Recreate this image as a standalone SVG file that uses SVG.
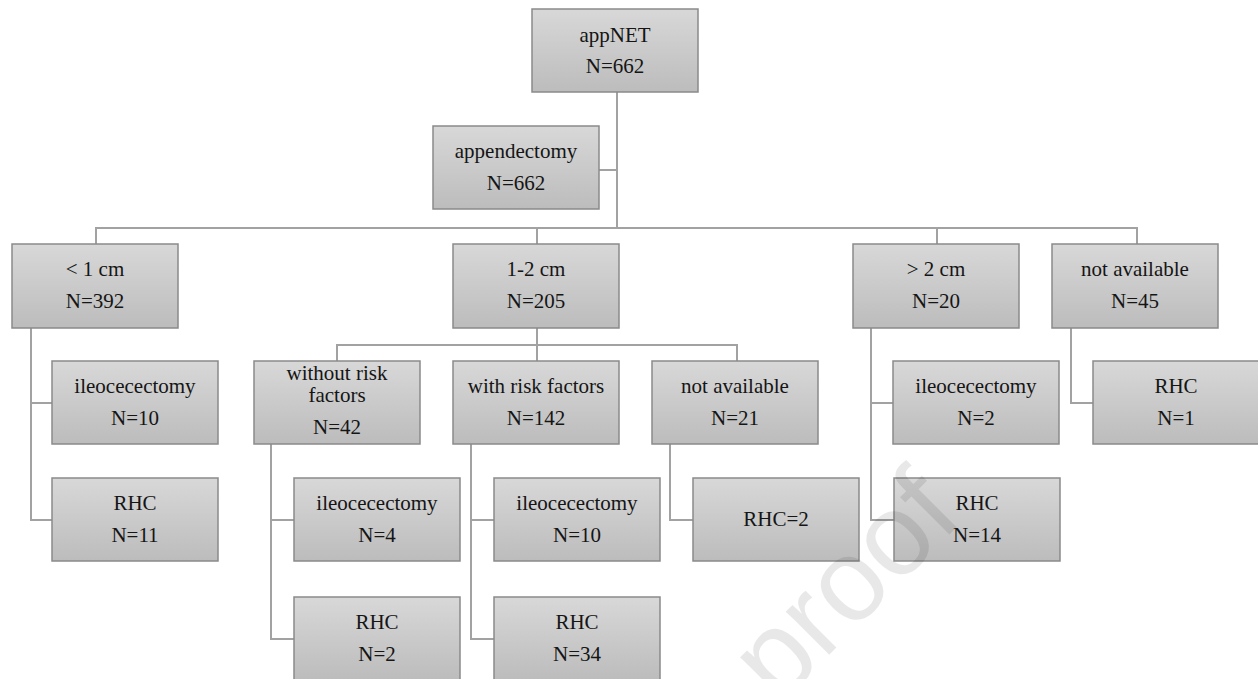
<svg xmlns="http://www.w3.org/2000/svg" width="1258" height="679" viewBox="0 0 1258 679">
<defs>
<linearGradient id="g" x1="0" y1="0" x2="0" y2="1">
<stop offset="0" stop-color="#d8d8d8"/>
<stop offset="1" stop-color="#bcbcbc"/>
</linearGradient>
<style>
.box{fill:url(#g);stroke:#8a8a8a;stroke-width:1.5}
.t{font-family:"Liberation Serif","Times New Roman",serif;font-size:21px;fill:#151515;text-anchor:middle}
.c{fill:none;stroke:#a2a2a2;stroke-width:2}
.wm{font-family:"Liberation Sans",Arial,sans-serif;font-size:116px;fill:#000;fill-opacity:0.09}
</style>
</defs>
<rect width="1258" height="679" fill="#fff"/>
<g id="connectors" class="c">
<path d="M617,92V228M599,170H617"/>
<path d="M96,244V228H1137V244M537,228V244M937,228V244"/>
<path d="M537,328V361M337,361V345H737V361"/>
<path d="M31,328V520H52M31,403H52"/>
<path d="M271,444V639H294M271,520H294"/>
<path d="M471,444V639H494M471,520H494"/>
<path d="M670,444V520H693"/>
<path d="M871,328V520H894M871,403H893"/>
<path d="M1071,328V403H1093"/>
</g>
<g id="appnet"><rect class="box" x="532" y="9" width="166" height="83"/><text class="t" x="615" y="42">appNET</text><text class="t" x="615" y="73">N=662</text></g>
<g id="appendectomy"><rect class="box" x="433" y="126" width="166" height="83"/><text class="t" x="516" y="158">appendectomy</text><text class="t" x="516" y="190">N=662</text></g>
<g id="lt1"><rect class="box" x="12" y="244" width="166" height="84"/><text class="t" x="95" y="276">&lt; 1 cm</text><text class="t" x="95" y="308">N=392</text></g>
<g id="cm12"><rect class="box" x="453" y="244" width="166" height="84"/><text class="t" x="536" y="276">1-2 cm</text><text class="t" x="536" y="308">N=205</text></g>
<g id="gt2"><rect class="box" x="853" y="244" width="166" height="84"/><text class="t" x="936" y="276">&gt; 2 cm</text><text class="t" x="936" y="308">N=20</text></g>
<g id="na45"><rect class="box" x="1052" y="244" width="166" height="84"/><text class="t" x="1135" y="276">not available</text><text class="t" x="1135" y="308">N=45</text></g>
<g id="ileo10a"><rect class="box" x="52" y="361" width="166" height="83"/><text class="t" x="135" y="393">ileocecectomy</text><text class="t" x="135" y="425">N=10</text></g>
<g id="without"><rect class="box" x="254" y="361" width="166" height="83"/><text class="t" x="337" y="380">without risk</text><text class="t" x="337" y="402">factors</text><text class="t" x="337" y="434">N=42</text></g>
<g id="with"><rect class="box" x="453" y="361" width="166" height="83"/><text class="t" x="536" y="393">with risk factors</text><text class="t" x="536" y="425">N=142</text></g>
<g id="na21"><rect class="box" x="652" y="361" width="166" height="83"/><text class="t" x="735" y="393">not available</text><text class="t" x="735" y="425">N=21</text></g>
<g id="ileo2"><rect class="box" x="893" y="361" width="166" height="83"/><text class="t" x="976" y="393">ileocecectomy</text><text class="t" x="976" y="425">N=2</text></g>
<g id="rhc1"><rect class="box" x="1093" y="361" width="166" height="83"/><text class="t" x="1176" y="393">RHC</text><text class="t" x="1176" y="425">N=1</text></g>
<g id="rhc11"><rect class="box" x="52" y="478" width="166" height="83"/><text class="t" x="135" y="510">RHC</text><text class="t" x="135" y="542">N=11</text></g>
<g id="ileo4"><rect class="box" x="294" y="478" width="166" height="83"/><text class="t" x="377" y="510">ileocecectomy</text><text class="t" x="377" y="542">N=4</text></g>
<g id="ileo10b"><rect class="box" x="494" y="478" width="166" height="83"/><text class="t" x="577" y="510">ileocecectomy</text><text class="t" x="577" y="542">N=10</text></g>
<g id="rhc2b"><rect class="box" x="693" y="478" width="166" height="83"/><text class="t" x="776" y="526">RHC=2</text></g>
<g id="rhc14"><rect class="box" x="894" y="478" width="166" height="83"/><text class="t" x="977" y="510">RHC</text><text class="t" x="977" y="542">N=14</text></g>
<g id="rhc2"><rect class="box" x="294" y="597" width="166" height="83"/><text class="t" x="377" y="629">RHC</text><text class="t" x="377" y="661">N=2</text></g>
<g id="rhc34"><rect class="box" x="494" y="597" width="166" height="83"/><text class="t" x="577" y="629">RHC</text><text class="t" x="577" y="661">N=34</text></g>
<text class="wm" transform="translate(778,706) rotate(-45)">proof</text>
</svg>
